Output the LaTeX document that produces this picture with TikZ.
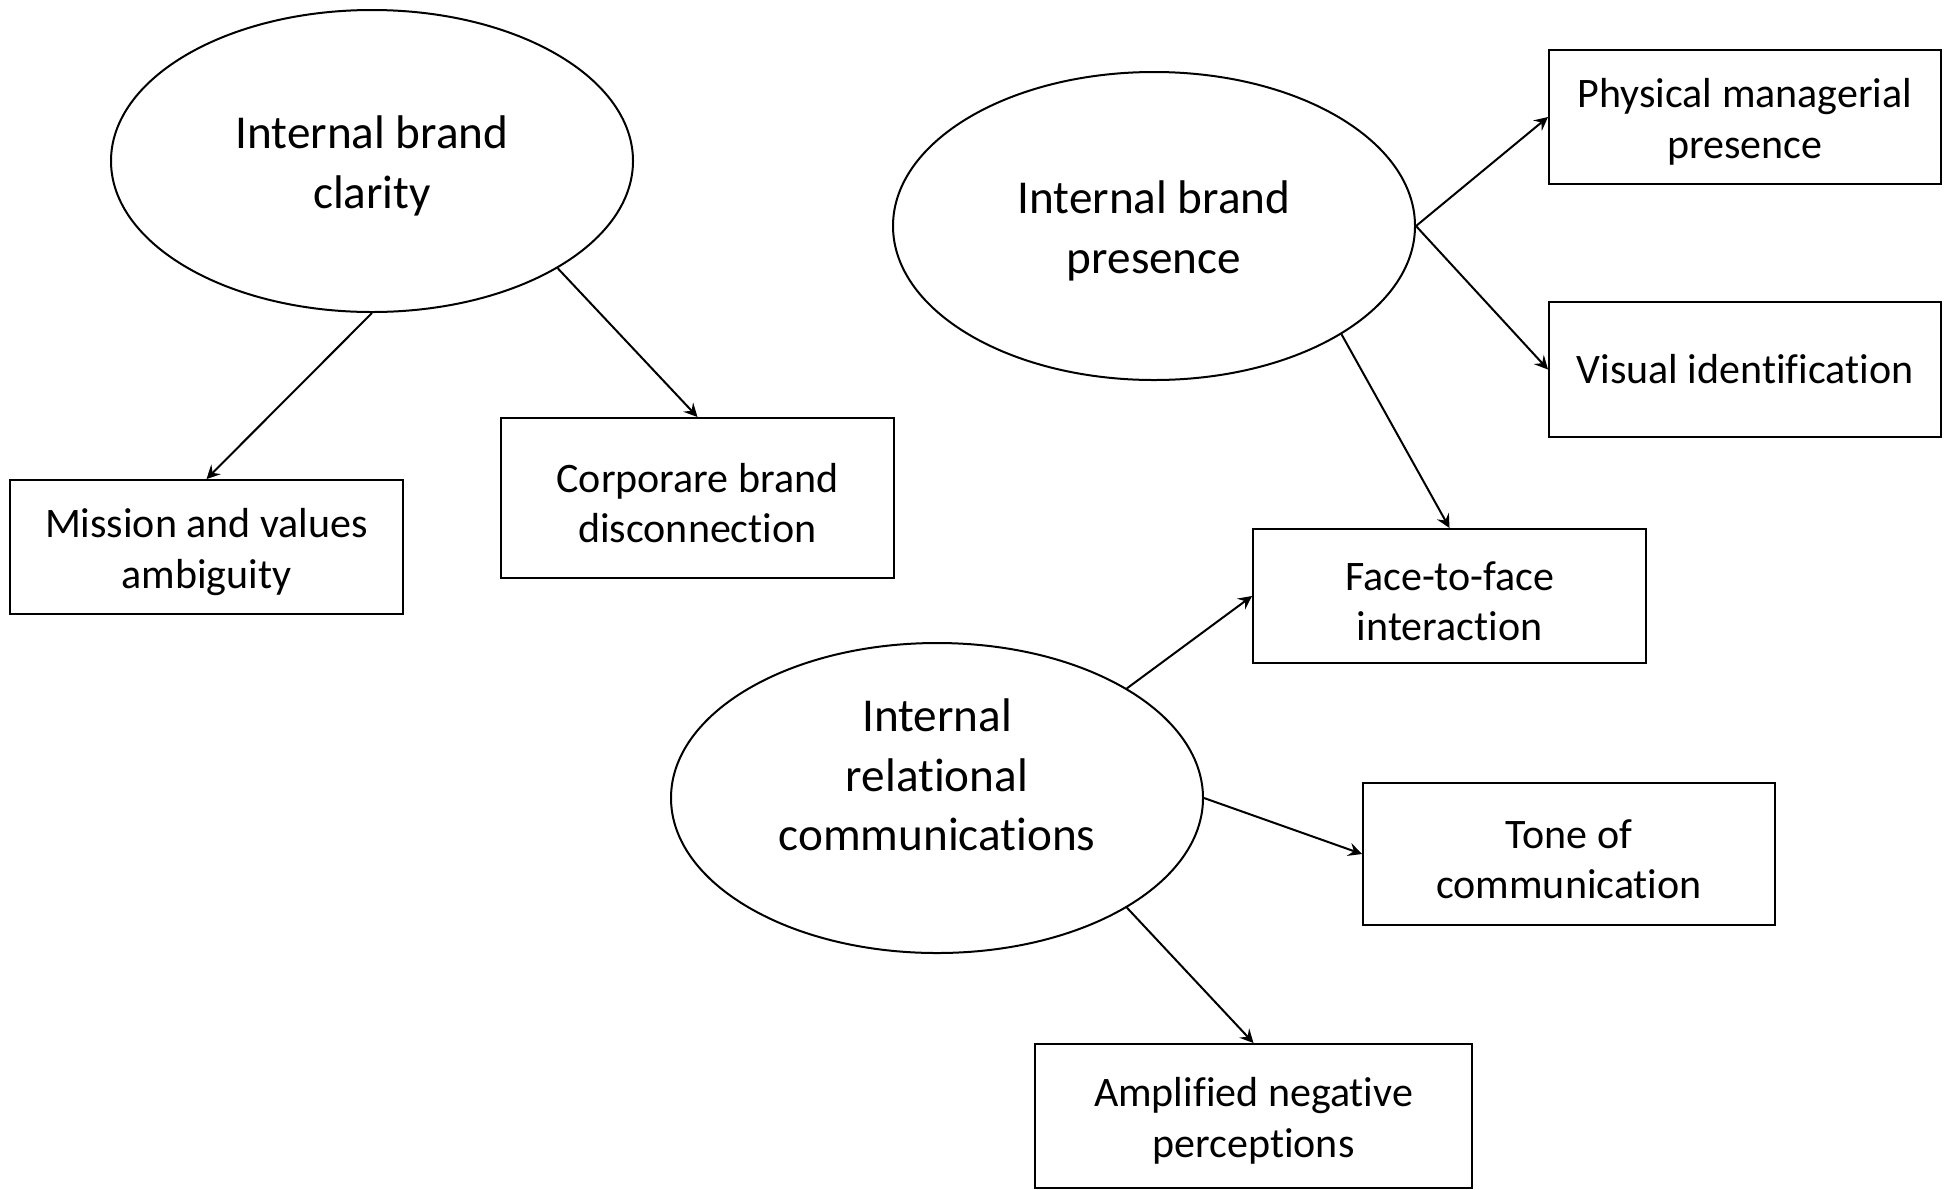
\documentclass[tikz,border=0pt]{standalone}
\usepackage{fontspec}
\setmainfont[Ligatures=NoCommon]{Carlito}
\usetikzlibrary{shapes.geometric}

% a little more room above the first line
\newcommand{\lowertext}{\rule{0pt}{\dimexpr\fontcharht\font`l+2.5pt\relax}}

\begin{document}
\begin{tikzpicture}[x=0.25pt, y=-0.25pt,
	construct/.style={draw, ellipse, line width=0.5pt, inner sep=0pt, align=center, font=\fontsize{11.8}{14.9}\selectfont},
	theme/.style={draw, rectangle, line width=0.5pt, inner sep=0pt, align=center, font=\fontsize{10.5}{12.7}\selectfont},
	link/.style={->, >=stealth, line width=0.5pt}]
				\useasboundingbox (0,0) rectangle (1946,1189);
				% constructs
				\node[construct, minimum width=130.5pt, minimum height=75.5pt] (IBC)at(372, 161) {\lowertext Internal brand\\clarity};
				\node[construct, minimum width=130.5pt, minimum height=77pt] (IBP)at(1154, 226) {\lowertext Internal brand\\presence};
				\node[construct, minimum width=133pt, minimum height=77.5pt] (IRC)at(937, 798) {};
				\node[align=center, font=\fontsize{11.8}{14.9}\selectfont] (IRCtext)at(937, 775) {Internal\\relational\\communications};
				% themes
				\node[theme, minimum width=98.25pt, minimum height=33.5pt] (MVA)at(206.5, 547) {\lowertext Mission and values\\ambiguity};
				\node[theme, minimum width=98.25pt, minimum height=40pt] (CBD)at(697.5, 498) {\lowertext Corporare brand\\disconnection};
				\node[theme, minimum width=98pt, minimum height=33.5pt] (PMP)at(1745, 117) {\lowertext Physical managerial\\presence};
				\node[theme, minimum width=98pt, minimum height=33.75pt] (VI)at(1745, 369.5) {\raisebox{-0.6pt}{Visual identification}};
				\node[theme, minimum width=98.25pt, minimum height=33.5pt] (FFI)at(1449.5, 596) {\lowertext Face-to-face\\interaction};
				\node[theme, minimum width=103pt, minimum height=35.5pt] (TOC)at(1569, 854) {\lowertext Tone of\\communication};
				\node[theme, minimum width=109.25pt, minimum height=36pt] (ANP)at(1253.5, 1116) {\lowertext Amplified negative\\perceptions};
				% arrows
				\draw[link] (IBC.south) -- (MVA.north);
				\draw[link] (IBC.-30) -- (CBD.north);
				\draw[link] (IBP.east) -- (PMP.west);
				\draw[link] (IBP.east) -- (VI.west);
				\draw[link] (IBP.-30) -- (FFI.north);
				\draw[link] (IRC.30) -- (FFI.west);
				\draw[link] (IRC.east) -- (TOC.west);
				\draw[link] (IRC.-30) -- (ANP.north);
			\end{tikzpicture}
\end{document}
